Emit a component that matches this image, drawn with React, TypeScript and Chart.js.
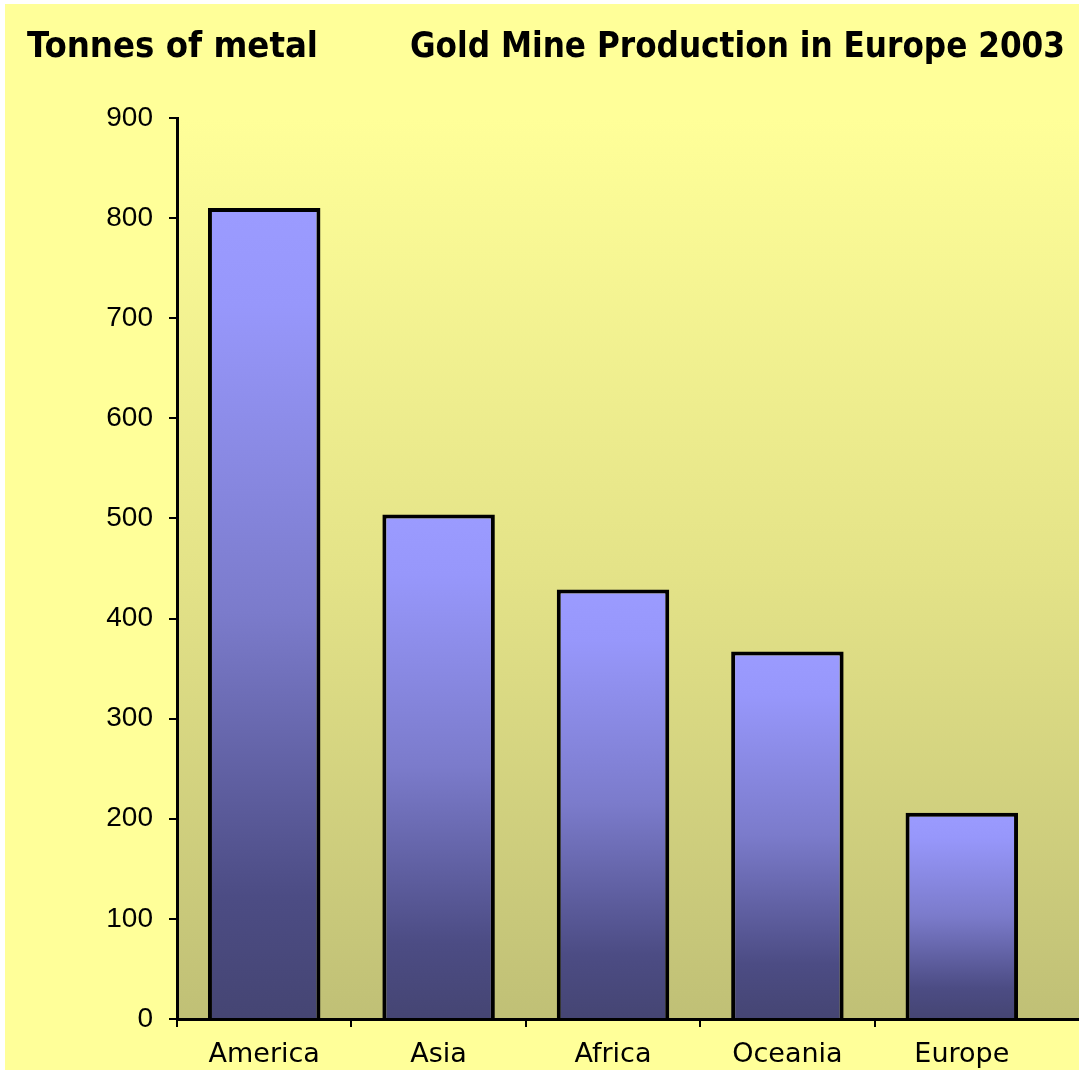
import React, { useEffect, useRef } from "react";
import { Chart, registerables } from "chart.js";

Chart.register(...registerables);

const categories = ["America", "Asia", "Africa", "Oceania", "Europe"];
const production = [810, 504, 429, 367, 206];
const yTicks = [0, 100, 200, 300, 400, 500, 600, 700, 800, 900];
const leftTitle = "Tonnes of metal";
const mainTitle = "Gold Mine Production in Europe 2003";

const W = 1074;
const H = 1066;

const bgPlugin = {
  id: "bgPlugin",
  beforeDraw(chart: any) {
    const { ctx, chartArea } = chart;
    ctx.save();
    ctx.fillStyle = "#ffff99";
    ctx.fillRect(0, 0, chart.width, chart.height);
    const g = ctx.createLinearGradient(0, chartArea.top, 0, chartArea.bottom);
    g.addColorStop(0, "#ffff99");
    g.addColorStop(0.5, "#e4e388");
    g.addColorStop(1, "#c0c076");
    ctx.fillStyle = g;
    ctx.fillRect(chartArea.left, chartArea.top, chart.width - chartArea.left, chartArea.bottom - chartArea.top);
    ctx.restore();
  },
  afterDraw(chart: any) {
    const { ctx, chartArea } = chart;
    ctx.save();
    ctx.strokeStyle = "#000";
    ctx.lineWidth = 3;
    ctx.beginPath();
    ctx.moveTo(chartArea.right - 2, chartArea.bottom + 0.5);
    ctx.lineTo(chart.width, chartArea.bottom + 0.5);
    ctx.stroke();
    ctx.fillStyle = "#000";
    ctx.textBaseline = "alphabetic";
    ctx.textAlign = "left";
    ctx.font = 'bold 36px "Liberation Sans Narrow", "DejaVu Sans Condensed", "Liberation Sans", sans-serif';
    const drawFit = (text: string, x: number, y: number, width: number) => {
      const m = ctx.measureText(text).width;
      ctx.save();
      ctx.translate(x, y);
      ctx.scale(width / m, 1);
      ctx.fillText(text, 0, 0);
      ctx.restore();
    };
    drawFit(leftTitle, 22, 53, 291);
    drawFit(mainTitle, 405, 53, 655);
    ctx.restore();
  },
};

export default function App() {
  const ref = useRef<HTMLCanvasElement | null>(null);

  useEffect(() => {
    if (!ref.current) return;
    const xTickColor = (c: any) => (c.tick ? "#000" : "rgba(0,0,0,0)");
    const chart = new Chart(ref.current, {
      type: "bar",
      data: {
        labels: categories,
        datasets: [
          {
            data: production,
            borderColor: "#000",
            borderWidth: 4,
            borderSkipped: "bottom",
            barPercentage: 0.645,
            categoryPercentage: 1,
            backgroundColor: (c: any) => {
              const chart = c.chart;
              if (c.type !== "data" || !chart.chartArea) return "#9999ff";
              const ys = chart.scales.y;
              const top = ys.getPixelForValue(c.raw);
              const bottom = ys.getPixelForValue(0);
              const g = chart.ctx.createLinearGradient(0, top, 0, bottom);
              g.addColorStop(0, "#9b9bff");
              g.addColorStop(0.12, "#9797fb");
              g.addColorStop(0.5, "#7b7bcb");
              g.addColorStop(0.85, "#4c4c84");
              g.addColorStop(1, "#454573");
              return g;
            },
          },
        ],
      },
      plugins: [bgPlugin],
      options: {
        animation: false,
        responsive: false,
        maintainAspectRatio: false,
        layout: { padding: { top: 114, right: 30, left: 0, bottom: 0 } },
        plugins: {
          legend: { display: false },
          tooltip: { enabled: false },
          title: { display: false },
        },
        scales: {
          x: {
            grid: {
              display: true,
              drawOnChartArea: false,
              color: xTickColor,
              tickColor: xTickColor,
              tickLength: 8,
              lineWidth: 2,
            },
            border: { display: true, color: "#000", width: 3 },
            ticks: {
              color: "#000",
              padding: 12,
              font: { family: '"DejaVu Sans", sans-serif', size: 27 },
            },
            afterFit: (s: any) => {
              s.height = 51;
            },
          },
          y: {
            min: 0,
            max: 900,
            afterBuildTicks: (s: any) => {
              s.ticks = yTicks.map((v) => ({ value: v }));
            },
            grid: {
              display: true,
              drawOnChartArea: false,
              color: "#000",
              tickLength: 8,
              lineWidth: 2,
            },
            border: { display: true, color: "#000", width: 3 },
            ticks: {
              color: "#000",
              padding: 16,
              font: { family: '"Liberation Sans", Arial, sans-serif', size: 28 },
            },
            afterFit: (s: any) => {
              s.width = 172;
            },
          },
        },
      },
    } as any);
    return () => chart.destroy();
  }, []);

  return (
    <div style={{ position: "fixed", left: 0, top: 0, width: 1079, height: 1070, background: "#fff" }}>
      <div style={{ position: "absolute", left: 5, top: 4, width: W, height: H }}>
        <canvas ref={ref} width={W} height={H} style={{ width: W, height: H, display: "block" }} />
      </div>
    </div>
  );
}
